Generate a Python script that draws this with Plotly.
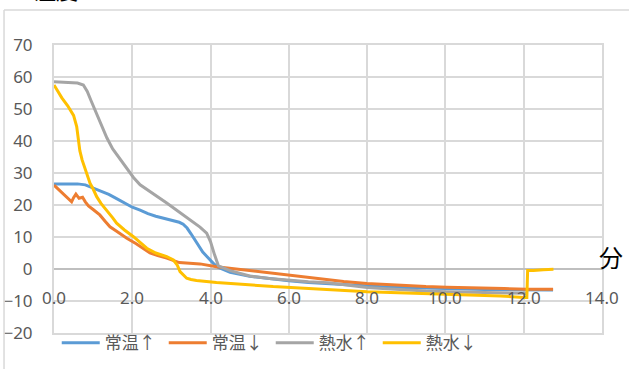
import plotly.graph_objects as go

# Cooling curves: temperature vs. elapsed minutes
t_rt_up = [0, 0.2, 0.4, 0.6, 0.8, 1.0, 1.2, 1.4, 1.6, 1.8, 2.0, 2.2, 2.4, 2.6, 2.8, 3.0,
           3.2, 3.3, 3.4, 3.5, 3.6, 3.7, 3.8, 3.9, 4.0, 4.1, 4.2, 4.5, 5.0, 5.5, 6.0, 6.5,
           7.0, 7.5, 8.0, 8.5, 9.0, 9.5, 10.0, 10.5, 11.0, 11.5, 12.0, 12.4, 12.75]
v_rt_up = [26.6, 26.6, 26.6, 26.6, 26.3, 25.3, 24.3, 23.3, 22.0, 20.6, 19.3, 18.4, 17.3, 16.5,
           15.8, 15.2, 14.6, 14.0, 12.8, 11.0, 9.0, 6.9, 5.3, 4.0, 2.6, 1.4, 0.5, -1.0, -2.3,
           -3.1, -3.7, -4.2, -4.6, -5.0, -5.3, -5.6, -5.8, -6.0, -6.2, -6.3, -6.4, -6.5, -6.6,
           -6.6, -6.6]

t_rt_dn = [0, 0.15, 0.3, 0.45, 0.5, 0.56, 0.64, 0.73, 0.8, 0.88, 1.0, 1.17, 1.3, 1.43, 1.6,
           1.86, 2.1, 2.28, 2.45, 2.65, 2.88, 3.2, 3.5, 3.73, 4.15, 4.5, 5.0, 5.5, 5.86, 6.28,
           6.8, 7.4, 7.99, 8.5, 9.0, 9.5, 10.03, 10.5, 11.0, 11.5, 12.08, 12.75]
v_rt_dn = [26.2, 24.5, 22.8, 21.0, 22.3, 23.4, 22.1, 22.4, 21.0, 19.7, 18.6, 16.9, 15.0, 13.2,
           11.8, 9.6, 7.9, 6.5, 5.0, 4.2, 3.4, 2.0, 1.8, 1.6, 0.7, 0.2, -0.5, -1.3, -1.9, -2.4,
           -3.2, -3.9, -4.5, -4.9, -5.2, -5.5, -5.7, -5.9, -6.0, -6.1, -6.3, -6.3]

t_hw_up = [0, 0.3, 0.6, 0.75, 0.85, 0.95, 1.05, 1.2, 1.35, 1.5, 1.7, 1.86, 2.03, 2.2, 2.45,
           2.7, 2.88, 3.1, 3.3, 3.5, 3.73, 3.9, 4.0, 4.1, 4.2, 4.5, 5.0, 5.5, 6.0, 6.5, 7.0,
           7.5, 8.0, 8.5, 9.0, 9.5, 10.0, 10.5, 11.0, 11.5, 12.1]
v_hw_up = [58.5, 58.4, 58.1, 57.5, 55.5, 52.5, 49.5, 45.5, 41.0, 37.5, 34.0, 31.6, 28.6, 26.3,
           24.1, 22.1, 20.6, 18.7, 16.9, 15.2, 13.1, 11.2, 8.5, 4.5, 1.0, -0.5, -2.2, -3.0,
           -3.6, -4.0, -4.3, -5.0, -5.8, -6.2, -6.6, -6.9, -7.1, -7.2, -7.3, -7.4, -7.6]

t_hw_dn = [0, 0.2, 0.35, 0.5, 0.58, 0.62, 0.66, 0.72, 0.79, 0.85, 0.92, 1.0, 1.09, 1.2, 1.35,
           1.5, 1.6, 1.8, 2.03, 2.2, 2.37, 2.6, 2.88, 3.05, 3.15, 3.22, 3.3, 3.39, 3.5, 3.64,
           4.15, 5.0, 5.6, 6.28, 7.0, 8.0, 9.0, 10.0, 10.8, 11.4, 12.0, 12.08, 12.1, 12.25,
           12.5, 12.76]
v_hw_dn = [57.5, 53.5, 51.0, 48.0, 44.5, 40.5, 37.0, 34.0, 31.6, 29.5, 26.8, 25.0, 22.6, 20.5,
           18.4, 16.0, 14.3, 12.2, 10.1, 8.2, 6.5, 5.0, 3.9, 2.8, 1.2, -0.8, -1.8, -2.9, -3.3,
           -3.6, -4.2, -5.0, -5.5, -5.9, -6.5, -7.1, -7.5, -7.9, -8.1, -8.4, -8.9, -8.9, -0.5,
           -0.5, -0.2, -0.1]

series_names = ["常温↑", "常温↓", "熱水↑", "熱水↓"]
series_colors = ["#5B9BD5", "#ED7D31", "#A5A5A5", "#FFC000"]
series_t = [t_rt_up, t_rt_dn, t_hw_up, t_hw_dn]
series_v = [v_rt_up, v_rt_dn, v_hw_up, v_hw_dn]

x_ticks = [0, 2, 4, 6, 8, 10, 12, 14]
x_tick_labels = ["0.0", "2.0", "4.0", "6.0", "8.0", "10.0", "12.0", "14.0"]
y_ticks = [-20, -10, 0, 10, 20, 30, 40, 50, 60, 70]

FONT = "Noto Sans, Noto Sans CJK JP, sans-serif"
GRID = "#D9D9D9"
TXT = "#595959"

fig = go.Figure()
for name, color, t, v in zip(series_names, series_colors, series_t, series_v):
    fig.add_trace(go.Scatter(x=t, y=v, mode="lines", name=name,
                             line=dict(color=color, width=3)))

# horizontal-axis labels sit just under the zero line
for xv, lab in zip(x_ticks, x_tick_labels):
    fig.add_annotation(x=xv, y=-8.8, xref="x", yref="y", text=lab, showarrow=False,
                       font=dict(family=FONT, size=17, color=TXT))

fig.add_annotation(x=1.0, y=0.198, xref="paper", yref="paper", xanchor="left",
                   text="分", showarrow=False, xshift=-5,
                   font=dict(family="Noto Sans CJK JP", size=24, color="#000000"))
fig.add_annotation(x=-0.04, y=1.132, xref="paper", yref="paper", yanchor="bottom",
                   text="温度", showarrow=False,
                   font=dict(family="Noto Sans CJK JP", size=22, color="#000000"))

# chart frame
fig.add_shape(type="line", xref="paper", yref="paper", x0=-0.0912, x1=-0.0912,
              y0=1.1215, y1=-0.2, line=dict(color=GRID, width=1.5))
fig.add_shape(type="line", xref="paper", yref="paper", x0=-0.0912, x1=1.2,
              y0=1.1215, y1=1.1215, line=dict(color=GRID, width=1.5))

fig.update_layout(
    width=629, height=369,
    margin=dict(l=54, r=27, t=45, b=36, autoexpand=False),
    paper_bgcolor="white", plot_bgcolor="white",
    font=dict(family=FONT, size=17, color=TXT),
    showlegend=True,
    legend=dict(orientation="h", x=0.005, xanchor="left", y=-0.035, yanchor="middle",
                entrywidth=54, entrywidthmode="pixels", itemwidth=38,
                font=dict(family=FONT, size=17, color=TXT), bgcolor="rgba(0,0,0,0)",
                tracegroupgap=0, itemclick=False),
    xaxis=dict(range=[0, 14], tickvals=x_ticks, showticklabels=False,
               showgrid=True, gridcolor=GRID, gridwidth=2,
               showline=True, linecolor=GRID, linewidth=2, mirror=True,
               zeroline=False, fixedrange=True),
    yaxis=dict(range=[-20, 70], tickvals=y_ticks, showgrid=True, gridcolor=GRID,
               gridwidth=2, showline=True, linecolor=GRID, linewidth=2, mirror=True,
               zeroline=True, zerolinecolor="#BFBFBF", zerolinewidth=2,
               ticks="outside", ticklen=16, tickcolor="rgba(0,0,0,0)",
               tickfont=dict(family=FONT, size=17, color=TXT), fixedrange=True),
)

fig.write_html("out.html")
